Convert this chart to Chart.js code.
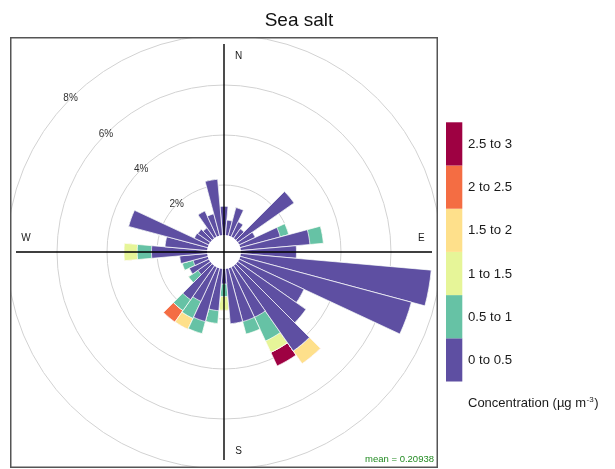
<!DOCTYPE html>
<html>
<head>
<meta charset="utf-8">
<title>Sea salt</title>
<script src="https://cdn.jsdelivr.net/npm/chart.js@4.4.1/dist/chart.umd.min.js"></script>
<style>
  html, body { margin: 0; padding: 0; background: #fff; }
  #wrap { position: relative; width: 615px; height: 469px; }
</style>
</head>
<body>
<div id="wrap"><canvas id="rose" width="615" height="469"></canvas></div>
<script>
// wind sectors, degrees clockwise from north
const directions = [0, 10, 20, 30, 40, 50, 60, 70, 80, 90, 100, 110, 120, 130, 140, 150, 160, 170,
                    180, 190, 200, 210, 220, 230, 240, 250, 260, 270, 280, 290, 300, 310, 320, 330, 340, 350];

// frequency (%) of each concentration band per sector
const band0 = [1.15, 0.6, 1.16, 0.65, 0.45, 2.74, 0.7, 1.65, 2.77, 2.22, 7.64, 7.08, 2.85, 3.32, 4.15, 2.2, 2.2, 2.2,
               0.6, 1.68, 2.2, 1.5, 1.65, 0.6, 0.85, 0.6, 1.1, 2.22, 1.69, 3.27, 0.63, 0.6, 0.5, 1.13, 0.9, 2.24];
const band1 = [0, 0, 0, 0, 0, 0, 0, 0.35, 0.54, 0, 0, 0, 0, 0, 0, 1.05, 0.52, 0,
               0.5, 0.51, 0.5, 0.75, 0.53, 0.45, 0, 0.45, 0, 0.57, 0, 0, 0, 0, 0, 0, 0, 0];
const band2 = [0, 0, 0, 0, 0, 0, 0, 0, 0, 0, 0, 0, 0, 0, 0, 0.5, 0, 0,
               0.55, 0, 0, 0, 0, 0, 0, 0, 0, 0.53, 0, 0, 0, 0, 0, 0, 0, 0];
const band3 = [0, 0, 0, 0, 0, 0, 0, 0, 0, 0, 0, 0, 0, 0, 0.62, 0, 0, 0,
               0, 0, 0, 0.48, 0, 0, 0, 0, 0, 0, 0, 0, 0, 0, 0, 0, 0, 0];
const band4 = [0, 0, 0, 0, 0, 0, 0, 0, 0, 0, 0, 0, 0, 0, 0, 0, 0, 0,
               0, 0, 0, 0, 0.56, 0, 0, 0, 0, 0, 0, 0, 0, 0, 0, 0, 0, 0];
const band5 = [0, 0, 0, 0, 0, 0, 0, 0, 0, 0, 0, 0, 0, 0, 0, 0.6, 0, 0,
               0, 0, 0, 0, 0, 0, 0, 0, 0, 0, 0, 0, 0, 0, 0, 0, 0, 0];

const bandLabels = ['0 to 0.5', '0.5 to 1', '1 to 1.5', '1.5 to 2', '2 to 2.5', '2.5 to 3'];
const bandColors = ['#5E4FA2', '#66C2A5', '#E6F598', '#FEE08B', '#F46D43', '#9E0142'];
const ringValues = [2, 4, 6, 8];
const compass = ['N', 'E', 'S', 'W'];
const meanValue = 0.20938;

const FONT = '"Liberation Sans", Arial, sans-serif';
const HOLE = 0.68;   // empty centre, in % units

// stack the bands: each dataset holds the running total, first one drawn on top
const bands = [band0, band1, band2, band3, band4, band5];
let running = directions.map(() => 0);
const datasets = bands.map((b, i) => {
  running = running.map((v, j) => v + b[j]);
  return {
    label: bandLabels[i],
    data: running.slice(),
    backgroundColor: bandColors[i],
    borderColor: '#ffffff',
    borderWidth: 0.7
  };
});
const totals = running;
const maxTotal = Math.max(...totals);

const roseDecor = {
  id: 'roseDecor',
  beforeDatasetsDraw(chart) {
    const { ctx, chartArea: a } = chart;
    const r = chart.scales.r;
    ctx.save();
    ctx.beginPath();
    ctx.rect(a.left, a.top, a.right - a.left, a.bottom - a.top);
    ctx.clip();
    ctx.strokeStyle = '#d2d2d2';
    ctx.lineWidth = 1;
    ringValues.forEach(v => {
      ctx.beginPath();
      ctx.arc(r.xCenter, r.yCenter, r.getDistanceFromCenterForValue(v), 0, Math.PI * 2);
      ctx.stroke();
    });
    ctx.restore();
  },
  afterDatasetsDraw(chart) {
    const { ctx, chartArea: a } = chart;
    const r = chart.scales.r;
    const cx = r.xCenter, cy = r.yCenter;
    ctx.save();

    // hole in the middle
    ctx.fillStyle = '#fff';
    ctx.beginPath();
    ctx.arc(cx, cy, r.getDistanceFromCenterForValue(0), 0, Math.PI * 2);
    ctx.fill();

    // N-S / E-W axes out to the longest sector
    const len = r.getDistanceFromCenterForValue(maxTotal);
    ctx.strokeStyle = '#000';
    ctx.lineWidth = 1.4;
    ctx.beginPath();
    ctx.moveTo(cx, cy - len); ctx.lineTo(cx, cy + len);
    ctx.moveTo(cx - len, cy); ctx.lineTo(cx + len, cy);
    ctx.stroke();

    // compass letters
    const lab = r.getDistanceFromCenterForValue(maxTotal * 0.95);
    ctx.fillStyle = '#1a1a1a';
    ctx.font = '10px ' + FONT;
    ctx.textAlign = 'center';
    ctx.textBaseline = 'middle';
    ctx.fillText(compass[0], cx + 14.5, cy - lab + 3);
    ctx.fillText(compass[1], cx + lab - 1, cy - 13.5);
    ctx.fillText(compass[2], cx + 14.5, cy + lab + 1);
    ctx.fillText(compass[3], cx - lab + 0.5, cy - 13.5);

    // ring labels along the NW diagonal
    ctx.fillStyle = '#333';
    ringValues.forEach(v => {
      const d = r.getDistanceFromCenterForValue(v) * Math.SQRT1_2;
      ctx.fillText(v + '%', cx - d, cy - d);
    });

    // mean annotation
    ctx.fillStyle = '#228B22';
    ctx.font = '9.5px ' + FONT;
    ctx.textAlign = 'right';
    ctx.textBaseline = 'alphabetic';
    ctx.fillText('mean = ' + meanValue, a.right - 3, a.bottom - 5);

    // plot frame
    ctx.strokeStyle = '#555';
    ctx.lineWidth = 1.5;
    ctx.strokeRect(a.left - 0.25, a.top - 0.25, a.right - a.left + 0.5, a.bottom - a.top + 0.5);
    ctx.restore();
  },
  afterDraw(chart) {
    const { ctx } = chart;
    ctx.save();

    // title
    ctx.fillStyle = '#111';
    ctx.font = '19px ' + FONT;
    ctx.textAlign = 'center';
    ctx.textBaseline = 'alphabetic';
    ctx.fillText('Sea salt', 299, 25.5);

    // colour key, highest band at the top
    const x0 = 446, w = 16.3, top = 122.3, h = 43.2;
    ctx.font = '13.2px ' + FONT;
    ctx.textAlign = 'left';
    ctx.textBaseline = 'middle';
    const n = bandColors.length;
    for (let i = 0; i < n; i++) {
      const y = top + (n - 1 - i) * h;
      ctx.fillStyle = bandColors[i];
      ctx.fillRect(x0, y, w, h);
      ctx.fillStyle = '#1a1a1a';
      ctx.fillText(bandLabels[i], 468, y + h / 2 + 0.5);
    }

    // key title with superscript unit
    ctx.textBaseline = 'alphabetic';
    const base = 407;
    const main = 'Concentration (\u00b5g m';
    ctx.font = '13px ' + FONT;
    ctx.fillText(main, 468, base);
    let x = 468 + ctx.measureText(main).width;
    ctx.font = '8px ' + FONT;
    ctx.fillText('-3', x + 0.5, base - 5);
    x += ctx.measureText('-3').width + 1;
    ctx.font = '13px ' + FONT;
    ctx.fillText(')', x, base);
    ctx.restore();
  }
};

new Chart(document.getElementById('rose'), {
  type: 'polarArea',
  data: { labels: directions.map(String), datasets: datasets },
  options: {
    responsive: false,
    animation: false,
    events: [],
    layout: { padding: { left: 11, top: 38, right: 178, bottom: 2 } },
    plugins: { legend: { display: false }, tooltip: { enabled: false } },
    scales: {
      r: {
        min: -HOLE,
        max: 7.84,
        startAngle: -5,
        ticks: { display: false },
        grid: { display: false },
        angleLines: { display: false },
        pointLabels: { display: false }
      }
    }
  },
  plugins: [roseDecor]
});
</script>
</body>
</html>
